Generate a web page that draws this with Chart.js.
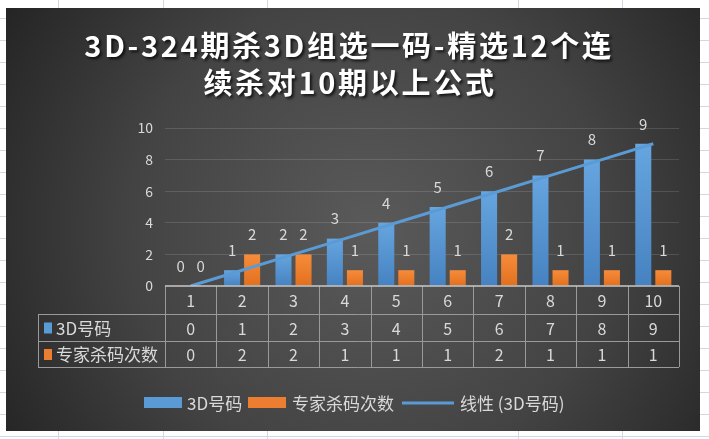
<!DOCTYPE html>
<html><head><meta charset="utf-8">
<script src="https://cdn.jsdelivr.net/npm/chart.js@4.4.1/dist/chart.umd.min.js"></script>
<style>html,body{margin:0;padding:0;background:#fff;overflow:hidden}canvas{display:block}</style>
</head><body>
<canvas id="c" width="709" height="439"></canvas>
<script>
const titleLines = ['3D-324期杀3D组选一码-精选12个连', '续杀对10期以上公式'];
const categories = ['1','2','3','4','5','6','7','8','9','10'];
const seriesNames = ['3D号码', '专家杀码次数'];
const numbers3D = [0,1,2,3,4,5,6,7,8,9];
const killCounts = [0,2,2,1,1,1,2,1,1,1];
const trendName = '线性 (3D号码)';
const trendValues = [0,1,2,3,4,5,6,7,8,9];
const yTicks = [0,2,4,6,8,10];

const BLUE = '#5b9bd5', ORANGE = '#ed7d31', TXT = '#d9d9d9';
const FONT = '"Noto Sans CJK SC","Noto Sans",sans-serif';

function barGrad(top, bottom) {
  return function (c) {
    const ch = c.chart, a = ch.chartArea;
    if (!a || c.parsed == null) return top;
    const yT = ch.scales.y.getPixelForValue(c.parsed.y);
    const g = ch.ctx.createLinearGradient(0, Math.min(yT, a.bottom - 1), 0, a.bottom);
    g.addColorStop(0, top); g.addColorStop(1, bottom);
    return g;
  };
}

const sheetBg = {
  id: 'sheetBg',
  beforeDraw(chart) {
    const ctx = chart.ctx, W = chart.width, H = chart.height;
    ctx.save();
    ctx.fillStyle = '#ffffff'; ctx.fillRect(0, 0, W, H);
    ctx.strokeStyle = '#d0d7e5'; ctx.lineWidth = 1;
    for (let y = 18; y < H; y += 22) { ctx.beginPath(); ctx.moveTo(0, y + 0.5); ctx.lineTo(W, y + 0.5); ctx.stroke(); }
    [58, 163, 267, 518, 622].forEach(x => { ctx.beginPath(); ctx.moveTo(x + 0.5, 0); ctx.lineTo(x + 0.5, H); ctx.stroke(); });
    const g = ctx.createRadialGradient(370, 230, 10, 370, 230, 430);
    g.addColorStop(0, '#595959'); g.addColorStop(0.55, '#434343'); g.addColorStop(1, '#242424');
    ctx.fillStyle = g; ctx.fillRect(6, 8, 694, 423);
    // title
    ctx.font = 'bold 29px ' + FONT;
    if ('letterSpacing' in ctx) ctx.letterSpacing = '2.7px';
    ctx.textAlign = 'center'; ctx.textBaseline = 'middle';
    ctx.shadowColor = 'rgba(0,0,0,0.75)'; ctx.shadowOffsetX = 2; ctx.shadowOffsetY = 2; ctx.shadowBlur = 3;
    ctx.fillStyle = '#ffffff';
    ctx.fillText(titleLines[0], 349, 46);
    ctx.fillText(titleLines[1], 350, 83);
    if ('letterSpacing' in ctx) ctx.letterSpacing = '0px';
    ctx.restore();
  }
};

const tablePlugin = {
  id: 'tablePlugin',
  afterDatasetsDraw(chart) {
    const ctx = chart.ctx, x = chart.scales.x, a = chart.chartArea;
    const n = categories.length, w = (x.right - x.left) / n;
    const y0 = a.bottom, y1 = y0 + 28, y2 = y1 + 27, y3 = y2 + 26, tl = 38;
    ctx.save();
    ctx.strokeStyle = '#9a9a9a'; ctx.lineWidth = 1;
    const h = (yy, x0) => { ctx.beginPath(); ctx.moveTo(x0, Math.round(yy) + 0.5); ctx.lineTo(x.right, Math.round(yy) + 0.5); ctx.stroke(); };
    const v = (xx, ya, yb) => { ctx.beginPath(); ctx.moveTo(Math.round(xx) + 0.5, ya); ctx.lineTo(Math.round(xx) + 0.5, yb); ctx.stroke(); };
    h(y1, tl); h(y2, tl); h(y3, tl);
    for (let i = 0; i <= n; i++) v(x.left + i * w, y0, y3);
    v(tl, y1, y3);
    ctx.strokeStyle = '#c8c8c8'; ctx.lineWidth = 1.5;
    ctx.beginPath(); ctx.moveTo(x.left, y0); ctx.lineTo(x.right, y0); ctx.stroke();
    ctx.fillStyle = TXT; ctx.textBaseline = 'middle'; ctx.textAlign = 'center';
    ctx.font = '16px ' + FONT;
    categories.forEach((c, i) => {
      const cx = x.getPixelForValue(i);
      ctx.fillText(c, cx, (y0 + y1) / 2 + 1);
      ctx.fillText(String(numbers3D[i]), cx, (y1 + y2) / 2 + 1);
      ctx.fillText(String(killCounts[i]), cx, (y2 + y3) / 2 + 1);
    });
    ctx.textAlign = 'left'; ctx.font = '17px ' + FONT;
    ctx.fillStyle = BLUE; ctx.fillRect(44, (y1 + y2) / 2 - 5, 8, 11);
    ctx.fillStyle = ORANGE; ctx.fillRect(44, (y2 + y3) / 2 - 5, 8, 11);
    ctx.fillStyle = TXT;
    ctx.fillText(seriesNames[0], 56, (y1 + y2) / 2 + 1);
    ctx.fillText(seriesNames[1], 56, (y2 + y3) / 2 + 1);
    // legend
    const ly = 403;
    ctx.fillStyle = BLUE; ctx.fillRect(144, ly - 6, 38, 11);
    ctx.fillStyle = ORANGE; ctx.fillRect(248, ly - 6, 38, 11);
    ctx.strokeStyle = BLUE; ctx.lineWidth = 3;
    ctx.beginPath(); ctx.moveTo(402, ly); ctx.lineTo(454, ly); ctx.stroke();
    ctx.fillStyle = TXT;
    ctx.fillText(seriesNames[0], 187, ly + 1);
    ctx.fillText(seriesNames[1], 292, ly + 1);
    ctx.fillText(trendName, 460, ly + 1);
    // data labels
    ctx.textAlign = 'center'; ctx.font = '15px ' + FONT;
    [0, 1].forEach(di => {
      const meta = chart.getDatasetMeta(di);
      meta.data.forEach((el, i) => {
        ctx.fillText(String(chart.data.datasets[di].data[i]), el.x, el.y - 20);
      });
    });
    ctx.restore();
  }
};

new Chart(document.getElementById('c'), {
  data: {
    labels: categories,
    datasets: [
      { type: 'bar', label: seriesNames[0], data: numbers3D, order: 2,
        backgroundColor: barGrad('#66a5df', '#4682c1'),
        barPercentage: 0.8, categoryPercentage: 0.78 },
      { type: 'bar', label: seriesNames[1], data: killCounts, order: 2,
        backgroundColor: barGrad('#f68c3b', '#e2701e'),
        barPercentage: 0.8, categoryPercentage: 0.78 },
      { type: 'line', label: trendName, data: trendValues, order: 0,
        borderColor: BLUE, borderWidth: 3, pointRadius: 0, fill: false, tension: 0 }
    ]
  },
  options: {
    responsive: false, animation: false, devicePixelRatio: 1,
    layout: { padding: { left: 120, right: 30, top: 128, bottom: 54 } },
    plugins: { legend: { display: false }, title: { display: false }, tooltip: { enabled: false } },
    scales: {
      x: { type: 'category', offset: true,
        grid: { display: false }, border: { display: false }, ticks: { display: false },
        afterFit(s) { s.height = 99; } },
      y: { min: 0, max: 10,
        afterBuildTicks(s) { s.ticks = yTicks.map(v => ({ value: v })); },
        grid: { color: c => c.tick.value === 0 ? 'rgba(0,0,0,0)' : 'rgba(255,255,255,0.13)', drawTicks: false },
        border: { display: false },
        ticks: { color: TXT, font: { size: 14, family: FONT }, padding: 12 },
        afterFit(s) { s.width = 45; } }
    }
  },
  plugins: [sheetBg, tablePlugin]
});
</script>
</body></html>
